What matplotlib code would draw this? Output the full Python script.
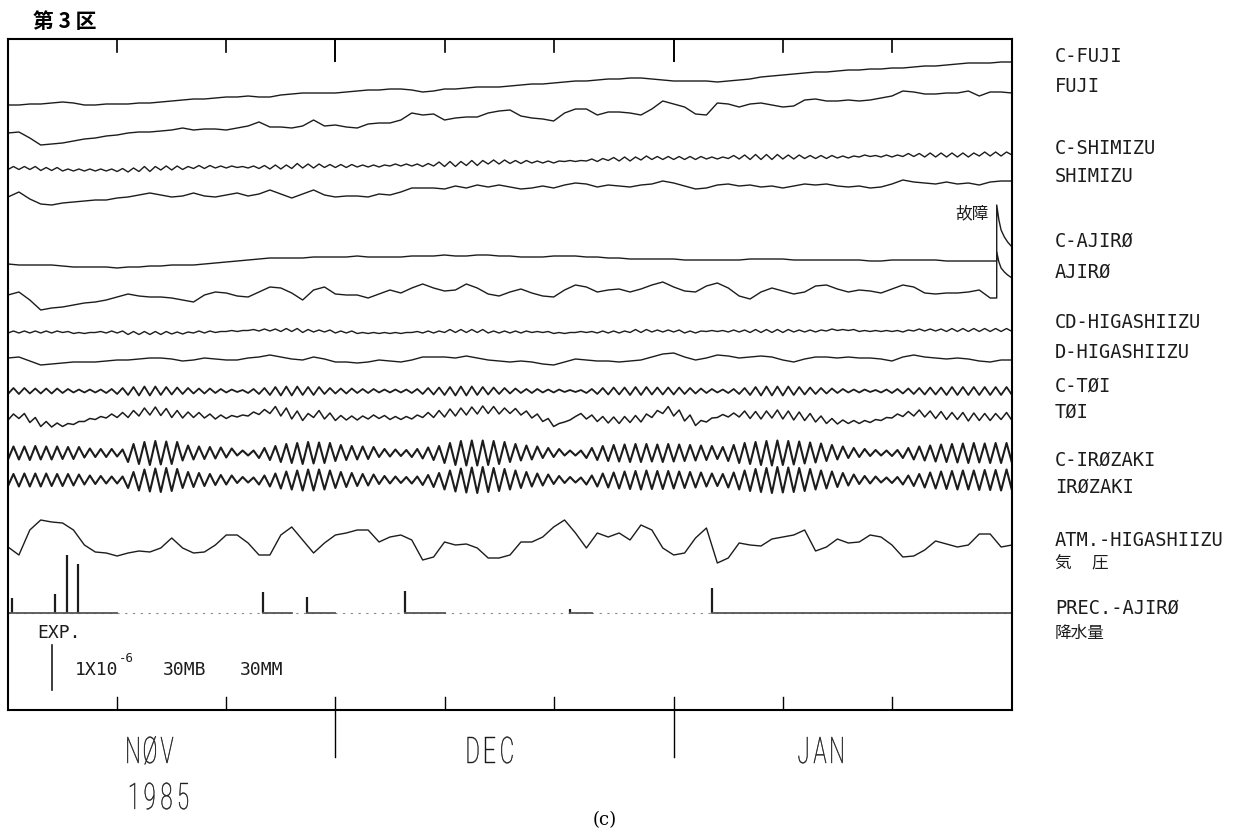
import numpy as np
import matplotlib.pyplot as plt
from matplotlib.textpath import TextPath
from matplotlib.font_manager import FontProperties
from matplotlib.patches import PathPatch
from matplotlib.transforms import Affine2D, IdentityTransform

# recorder units: 45 units = 1x10^-6 strain = 30 mb = 30 mm (the EXP. bar)
SCALE = 45
MM_PER_BAR = 30
days = np.arange(93)                 # 0 = 1 Nov 1985 ... 92 = 1 Feb 1986
half_days = np.arange(0, 92.5, 0.5)  # trough / crest of each tidal day

# ---- slow strain traces (daily readings, recorder units, up = positive) ----
c_fuji = [0, 0, 1, 1, 2, 3, 2, 0, 0, 1,
          1, 1, 2, 2, 3, 4, 5, 6, 6, 7,
          8, 8, 9, 8, 8, 10, 11, 12, 12, 12,
          12, 13, 14, 15, 15, 16, 16, 15, 13, 14,
          16, 16, 17, 18, 18, 18, 19, 20, 21, 21,
          22, 23, 24, 24, 25, 26, 26, 27, 27, 26,
          25, 24, 24, 24, 24, 23, 24, 25, 26, 28,
          29, 30, 31, 32, 33, 33, 34, 35, 35, 36,
          36, 37, 37, 38, 39, 39, 40, 41, 42, 42,
          42, 43, 43]
fuji = [0, 1, -5, -12, -11, -10, -8, -6, -5, -3,
        -2, 0, 1, 1, 2, 3, 5, 3, 4, 4,
        3, 5, 7, 11, 6, 6, 5, 7, 13, 7,
        8, 6, 5, 9, 10, 10, 13, 20, 18, 19,
        13, 15, 16, 16, 20, 22, 23, 17, 15, 14,
        12, 20, 24, 24, 18, 21, 21, 20, 18, 24,
        32, 29, 26, 19, 18, 30, 29, 26, 29, 30,
        28, 26, 27, 33, 34, 32, 32, 33, 32, 33,
        35, 37, 42, 41, 39, 39, 40, 40, 42, 37,
        41, 41, 40]
c_shimizu_mean = [0, 0, 0, -1, -1, -2, -2, -2, -2, -2,
                  -2, -2, -1, -1, 0, 0, 0, 1, 1, 1,
                  1, 1, 1, 1, 1, 1, 2, 2, 2, 2,
                  2, 2, 2, 2, 2, 3, 3, 3, 3, 4,
                  4, 4, 5, 5, 6, 6, 6, 6, 6, 6,
                  6, 7, 7, 8, 8, 9, 9, 9, 10, 10,
                  10, 10, 10, 10, 10, 10, 11, 11, 11, 11,
                  11, 11, 11, 11, 11, 11, 11, 11, 12, 12,
                  12, 12, 13, 13, 13, 13, 13, 13, 13, 14,
                  14, 14, 15]
c_shimizu_amp = [3, 3, 3, 3, 3, 2, 2, 2, 2, 2,
                 3, 4, 5, 5, 4, 4, 3, 3, 3, 2,
                 2, 1, 2, 3, 4, 4, 5, 4, 4, 3,
                 3, 3, 2, 2, 2, 2, 2, 2, 3, 4,
                 5, 5, 5, 5, 4, 4, 3, 3, 2, 2,
                 2, 1, 1, 2, 3, 3, 4, 4, 4, 3,
                 3, 3, 3, 3, 2, 2, 3, 4, 5, 5,
                 5, 4, 4, 3, 3, 3, 2, 2, 2, 1,
                 2, 2, 3, 3, 4, 4, 4, 4, 4, 4,
                 4, 4]
shimizu = [0, 5, -2, -7, -8, -6, -5, -4, -3, -3,
           -1, 0, 2, 4, 2, 0, 1, 4, 1, 0,
           2, 4, 1, 3, 7, 3, -1, 3, 7, 2,
           0, 1, 1, 0, 3, 2, 5, 9, 9, 9,
           8, 11, 9, 12, 10, 12, 10, 8, 9, 11,
           9, 12, 14, 13, 10, 12, 11, 10, 12, 13,
           16, 14, 11, 8, 9, 12, 13, 11, 12, 10,
           11, 9, 11, 13, 12, 13, 11, 10, 11, 9,
           10, 13, 17, 15, 14, 13, 15, 13, 14, 12,
           15, 16, 16]

# AJIRO records stop on day 90 and jump at the instrument fault (故障)
c_ajiro = [0, -1, -1, -1, -1, -2, -3,
           -3, -3, -3, -4, -3, -3, -2,
           -2, -1, -1, -1, 0, 1, 2,
           3, 4, 5, 6, 6, 6, 6,
           7, 7, 7, 7, 8, 7, 7, 7,
           7, 8, 8, 8, 9, 8, 8, 9, 9, 8,
           8, 7, 7, 7, 8, 8, 8, 7, 7, 6,
           6, 5, 5, 5, 5, 5, 4, 4, 4, 4,
           4, 4, 5, 5, 5, 5, 4, 4, 4, 4,
           4, 4, 4, 3, 3, 4, 4, 4, 4, 4, 3, 3, 3, 3, 3]
ajiro = [0, 3, -5, -15, -13, -12, -10, -8, -7, -5,
         -2, 1, -1, -2, -2, -3, -5, -7, 0, 3,
         2, -1, -2, 3, 8, 7, 2, -5, 5, 8,
         1, 0, 0, -3, 1, 5, 2, 7, 11, 7,
         4, 5, 11, 7, 1, -1, 3, 6, 2, -1,
         -2, 5, 10, 8, 3, 5, 6, 3, 6, 10,
         13, 8, 4, 3, 9, 12, 7, -1, -4, 3,
         7, 4, 1, 3, 9, 10, 6, 3, 5, 4,
         2, 6, 10, 8, 2, 1, 2, 2, 3, 5, -3]
fault_days = [90.6, 90.6, 90.8, 91.0, 91.3, 91.6, 92.0]
c_ajiro_fault = [3, 59, 44, 34, 27, 22, 17]
ajiro_fault = [-3, 43, 33, 27, 23, 20, 17]

cd_higashi_mean = [0, 0, 0, 0, 0, 0, -1, -1, 0, 0,
                   0, -1, -1, -1, -1, -1, -1, 0, 0, 0,
                   1, 1, 2, 2, 2, 2, 2, 1, 1, 1,
                   0, 0, -1, -1, -1, -1, -1, 0, 0, 0,
                   1, 1, 1, 1, 0, 0, 0, 0, 0, 0,
                   -1, -1, 0, 0, 0, 0, 0, 1, 1, 1,
                   1, 1, 0, 0, 1, 1, 1, 1, 1, 1,
                   1, 1, 1, 1, 1, 2, 2, 2, 1, 1,
                   1, 1, 1, 2, 2, 2, 2, 2, 2, 2,
                   2, 2, 2]
cd_higashi_amp = [2, 2, 2, 2, 2, 1, 1, 1, 1, 2,
                  2, 3, 3, 3, 3, 2, 2, 2, 2, 1,
                  1, 1, 1, 2, 2, 3, 3, 3, 2, 2,
                  2, 2, 1, 1, 1, 1, 1, 1, 2, 2,
                  3, 3, 3, 3, 2, 2, 2, 2, 1, 1,
                  1, 1, 1, 1, 2, 2, 2, 3, 3, 2,
                  2, 2, 2, 2, 1, 1, 2, 2, 3, 3,
                  3, 3, 2, 2, 2, 2, 1, 1, 1, 1,
                  1, 1, 2, 2, 2, 2, 3, 3, 3, 3,
                  3, 3]
d_higashi = [0, 1, -3, -7, -6, -5, -4, -4, -4, -3,
             -2, -2, -1, 0, 0, -1, -3, -2, 0, -1,
             -2, -2, 0, 1, 3, 1, -1, -2, 1, -1,
             -4, -4, -5, -4, -2, -3, -4, -2, 1, 1,
             1, 0, 2, 0, -2, -3, -4, -3, -4, -6,
             -7, -4, -1, -2, -3, -3, -4, -3, -2, 1,
             4, 5, 1, -2, 0, 3, 2, 0, 1, 2,
             1, -2, -4, -1, 1, 1, 0, 1, 0, 0,
             -1, -3, 1, 3, 1, 0, -1, 0, -1, -3,
             -4, -2, -2]

# ---- tidal traces: daily range (crest - trough) and running mean ----
c_toi_amp = [6, 6, 5, 5, 5, 4, 3, 3, 3, 4,
             6, 8, 9, 9, 8, 7, 6, 5, 5, 4,
             3, 2, 4, 6, 8, 9, 9, 8, 8, 6,
             5, 5, 4, 4, 3, 3, 3, 4, 6, 7,
             8, 9, 9, 8, 7, 6, 5, 4, 4, 3,
             3, 2, 2, 4, 6, 7, 7, 8, 8, 7,
             7, 7, 6, 5, 4, 3, 4, 6, 8, 9,
             9, 9, 8, 7, 6, 5, 4, 3, 3, 2,
             3, 4, 5, 6, 7, 7, 8, 8, 8, 8,
             8, 8]
toi_mean = [0, 1, -3, -7, -8, -8, -6, -3, -1, 1,
            2, 3, 5, 6, 5, 3, 2, 2, 1, 0,
            0, 1, 3, 5, 7, 5, 2, 0, 3, 1,
            -1, -1, -1, 0, 0, -1, -1, 0, 2, 3,
            4, 5, 6, 7, 7, 6, 6, 4, 1, -3,
            -8, -4, 2, 0, -2, -3, -3, -2, -1, 3,
            7, 4, -1, -6, -3, 1, 2, 3, 2, 2,
            3, 2, 1, 0, -2, -4, -5, -5, -5, -4,
            -2, 1, 3, 4, 3, 2, 1, 1, 0, 0,
            0, 1, 0]
toi_amp = [6, 5, 5, 5, 4, 3, 3, 3, 3, 4,
           5, 7, 8, 8, 7, 7, 6, 5, 4, 4,
           3, 2, 4, 5, 7, 8, 8, 7, 7, 6,
           5, 4, 4, 4, 3, 3, 3, 4, 5, 7,
           8, 8, 8, 8, 7, 6, 5, 4, 4, 3,
           3, 2, 3, 4, 5, 6, 7, 7, 8, 7,
           7, 6, 6, 5, 4, 3, 4, 6, 7, 8,
           8, 8, 8, 7, 6, 5, 4, 3, 3, 3,
           3, 4, 5, 6, 6, 7, 7, 7, 8, 7,
           7, 7]
c_irozaki_amp = [13, 13, 14, 13, 13, 12, 12, 9, 8, 8,
                 7, 18, 22, 24, 23, 22, 15, 13, 12, 11,
                 9, 5, 5, 10, 14, 18, 20, 22, 21, 20,
                 16, 14, 13, 12, 8, 7, 6, 8, 11, 14,
                 20, 24, 25, 25, 24, 22, 18, 15, 13, 10,
                 8, 5, 5, 10, 14, 16, 17, 18, 18, 17,
                 18, 17, 16, 15, 14, 12, 16, 20, 22, 24,
                 25, 24, 23, 21, 19, 16, 13, 10, 8, 6,
                 5, 6, 10, 13, 15, 17, 18, 19, 20, 19,
                 20, 20]
irozaki_amp = [12, 13, 13, 13, 12, 12, 11, 9, 8, 7,
               7, 16, 21, 23, 24, 22, 16, 14, 12, 10,
               9, 6, 5, 9, 13, 17, 19, 21, 21, 19,
               16, 14, 12, 11, 8, 7, 6, 7, 10, 14,
               19, 23, 25, 26, 24, 22, 19, 16, 13, 11,
               8, 6, 5, 9, 13, 15, 17, 18, 19, 18,
               18, 17, 16, 15, 13, 12, 15, 19, 22, 24,
               26, 25, 24, 22, 19, 17, 14, 11, 8, 7,
               5, 6, 9, 12, 15, 17, 18, 19, 19, 20,
               20, 21]

# ---- atmospheric pressure (recorder units) and rainfall (mm) ----
atm = [0, -8, 17, 27, 25, 24, 17, 2, -5, -6,
       -9, -6, -4, -5, -1, 9, -1, -6, -5, 2,
       12, 12, 4, -8, -8, 12, 20, 7, -6, 4,
       12, 14, 17, 17, 5, 10, 12, 7, -13, -10,
       5, 2, 3, -1, -11, -11, -8, 5, 5, 10,
       20, 27, 14, -1, 14, 10, 14, 7, 22, 17,
       -1, -8, -6, 9, 19, -16, -11, 4, 2, 1,
       8, 10, 12, 17, -4, 0, 8, 4, 5, 12,
       10, 2, -10, -9, -3, 6, 3, 0, 2, 13,
       13, 0, 2]
rain_days = [0.4, 4.3, 5.4, 6.4, 23.4, 27.4, 36.4, 51.5, 64.5]
rain_mm = [10, 13, 39, 33, 14, 11, 15, 3, 17]
rain_logged = [(0, 10), (23.4, 26), (27.4, 30), (36.4, 40), (51.5, 53.5), (64.5, 92)]

labels = ["C-FUJI", "FUJI", "C-SHIMIZU", "SHIMIZU", "C-AJIRØ", "AJIRØ",
          "CD-HIGASHIIZU", "D-HIGASHIIZU", "C-TØI", "TØI", "C-IRØZAKI", "IRØZAKI",
          "ATM.-HIGASHIIZU", "気　 圧", "PREC.-AJIRØ", "降水量"]
label_y = [56, 86, 148, 177, 241, 272, 322, 352, 386, 412, 460, 487,
           541, 564, 608, 633]
months = ["NØV", "DEC", "JAN"]
month_x = [150, 490, 820]

# trace baselines on the chart (recorder units above the bottom frame)
base = {"c_fuji": 605, "fuji": 577, "c_shimizu": 542, "shimizu": 513,
        "c_ajiro": 446, "ajiro": 415, "cd": 378, "d": 352, "c_toi": 319,
        "toi": 293, "c_iro": 257, "iro": 230, "atm": 163, "rain": 97}


def tidal(mean, amp):
    mean = np.asarray(mean, float)
    amp = np.asarray(amp, float)
    y = np.empty(len(half_days))
    y[0:184:2] = mean[:92] - amp / 2
    y[1:184:2] = mean[:92] + amp / 2
    y[184] = mean[92] - amp[-1] / 2
    return y


W, H = 1244, 832
fig = plt.figure(figsize=(W / 100, H / 100), dpi=100)
ax = fig.add_axes([8 / W, 122 / H, 1004 / W, 671 / H])
ax.set_xlim(0, 92)
ax.set_ylim(0, 671)
ax.set_xticks([])
ax.set_yticks([])
for sp in ax.spines.values():
    sp.set_linewidth(1.5)

ink = "#1c1c1c"
kw = dict(color=ink, lw=1.0)

ax.plot(days, base["c_fuji"] + np.array(c_fuji), **kw)
ax.plot(days, base["fuji"] + np.array(fuji), **kw)
ax.plot(half_days, base["c_shimizu"] + tidal(c_shimizu_mean, c_shimizu_amp), **kw)
ax.plot(days, base["shimizu"] + np.array(shimizu), **kw)

ax.plot(list(days[:91]) + fault_days,
        base["c_ajiro"] + np.array(c_ajiro + c_ajiro_fault), **kw)
ax.plot(list(days[:91]) + fault_days,
        base["ajiro"] + np.array(ajiro + ajiro_fault), **kw)

ax.plot(half_days, base["cd"] + tidal(cd_higashi_mean, cd_higashi_amp), **kw)
ax.plot(days, base["d"] + np.array(d_higashi), **kw)

ax.plot(half_days, base["c_toi"] + tidal(np.zeros(93), c_toi_amp), color=ink, lw=1.3)
ax.plot(half_days, base["toi"] + tidal(toi_mean, toi_amp), color=ink, lw=1.1)
ax.plot(half_days, base["c_iro"] + tidal(np.zeros(93), c_irozaki_amp), color=ink, lw=1.5)
ax.plot(half_days, base["iro"] + tidal(np.zeros(93), irozaki_amp), color=ink, lw=1.5)

ax.plot(days, base["atm"] + np.array(atm), **kw)

# rainfall bars and zero line
mm = SCALE / MM_PER_BAR
ax.vlines(rain_days, base["rain"], base["rain"] + np.array(rain_mm) * mm,
          color=ink, lw=1.6)
ax.plot([0, 92], [base["rain"]] * 2, color="#888888", lw=0.8, ls=(0, (2, 5)))
for a, b in rain_logged:
    ax.plot([a, b], [base["rain"]] * 2, color="#555555", lw=1.3)

# day ticks (every 10 days) and month boundaries
for d in [10, 20, 40, 50, 71, 81]:
    ax.plot([d, d], [671, 658], color="k", lw=1.2)
    ax.plot([d, d], [0, 13], color="k", lw=1.0)
for d in [30, 61]:
    ax.plot([d, d], [671, 649], color="k", lw=1.4)
    ax.plot([d, d], [13, -47], color="k", lw=1.0, clip_on=False)

# EXP. scale bar
mono = "DejaVu Sans Mono"
ax.plot([4.0, 4.0], [20, 20 + SCALE], color=ink, lw=1.2)


def ftext(x, y, s, **k):
    fig.text(x / W, 1 - y / H, s, **k)


def plotter_text(s, cx, cy, cap=26, pitch=17, squeeze=0.6, color="#1a1a1a"):
    # thin fixed-pitch lettering like the pen plotter's
    fp = FontProperties(family=["Roboto", "DejaVu Sans"], weight="light")
    k = cap / 71.1
    x0 = cx - pitch * len(s) / 2
    for i, ch in enumerate(s):
        tp = TextPath((0, 0), ch, size=100, prop=fp)
        bb = tp.get_extents()
        tr = (Affine2D().translate(-(bb.x0 + bb.x1) / 2, 0)
              .scale(k * squeeze, k)
              .translate(x0 + pitch * (i + 0.5), H - cy - cap / 2))
        fig.add_artist(PathPatch(tr.transform_path(tp), fc=color, ec=color,
                                 lw=0.3, transform=IdentityTransform()))


ftext(37, 633, "EXP.", family=mono, fontsize=13, va="center", color=ink)
ftext(75, 670, "1X10", family=mono, fontsize=13, va="center", color=ink)
ftext(119, 659, "-6", family=mono, fontsize=9, va="center", color=ink)
ftext(163, 670, "30MB", family=mono, fontsize=13, va="center", color=ink)
ftext(240, 670, "30MM", family=mono, fontsize=13, va="center", color=ink)

cjk = ["Noto Sans CJK JP", "DejaVu Sans"]
ftext(972, 214, "故障", family=cjk, fontsize=12, ha="center", va="center", color=ink)
ftext(33, 22, "第 3 区", family=cjk, fontsize=15, fontweight="bold", va="center")

for s, y in zip(labels, label_y):
    if s[0] in "気降":
        ftext(1055, y, s, family=cjk, fontsize=12, va="center", color=ink)
    else:
        ftext(1055, y, s, family=mono, fontsize=13.5, va="center", color=ink)

for s, x in zip(months, month_x):
    plotter_text(s, x, 750)
plotter_text("1985", 158, 796)
ftext(605, 820, "(c)", family="DejaVu Serif", fontsize=13, ha="center", va="center")

fig.savefig("out.png", dpi=100, facecolor="white")
